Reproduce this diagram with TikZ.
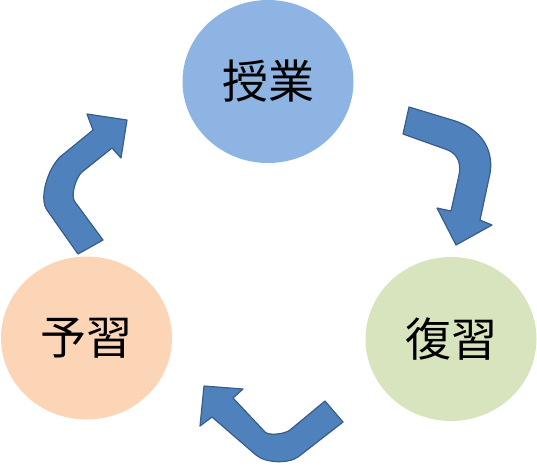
\documentclass[tikz,border=0pt]{standalone}
\usepackage{fontspec}
\newfontfamily\jpfont{Noto Sans CJK JP}
\usepackage{tikz}
\usetikzlibrary{shapes.geometric}
\definecolor{jugyo}{RGB}{141,180,226}
\definecolor{yoshu}{RGB}{251,213,181}
\definecolor{fukushu}{RGB}{215,228,189}
\definecolor{arrfill}{RGB}{79,129,189}
\definecolor{arrline}{RGB}{56,93,138}
\def\jp{\jpfont\fontsize{46}{46}\selectfont}

\begin{document}
\begin{tikzpicture}[x=1pt,y=-1pt,
    stage/.style={ellipse,inner sep=0pt,minimum width=171pt,minimum height=163pt,font=\jp},
    blockarrow/.style={fill=arrfill,draw=arrline,line width=1.2pt,line join=round}]
     	\useasboundingbox (0,0) rectangle (537,467);
            \node[stage,fill=jugyo] (jugyo) at (268,81.5){授業};
            \node[stage,fill=yoshu] (yoshu) at (86.5,338){予習};
            \node[stage,fill=fukushu,minimum height=164pt] (fukushu) at (451,339){復習};
             % jugyo -> fukushu
             \draw[blockarrow](409,107)--(452,120) .. controls (490,131) and (494,160) .. (489,178)
                 --(480,220)--(492,225)--(456,245)--(437,208)--(451,211)
                 --(459,175) .. controls (462,160) and (455,152) .. (445,149)--(403,134)--cycle;
             % fukushu -> yoshu
             \draw[blockarrow](325,401)--(343,422)--(298,457) .. controls (288,464) and (265,463) .. (256,455)
                 --(212,417)--(200,426)--(204,386)--(243,389)--(233,398)
                 --(265,432) .. controls (269,436) and (285,434) .. (290,430)--cycle;
             % yoshu -> jugyo
             \draw[blockarrow](78,254)--(47,210) .. controls (39,199) and (47,170) .. (60,157)
                 --(93,130)--(87,114)--(127,120)--(121,158)--(112,148)
                 --(82,172) .. controls (76,177) and (70,196) .. (75,202)--(103,240)--cycle;
      \end{tikzpicture}
\end{document}
